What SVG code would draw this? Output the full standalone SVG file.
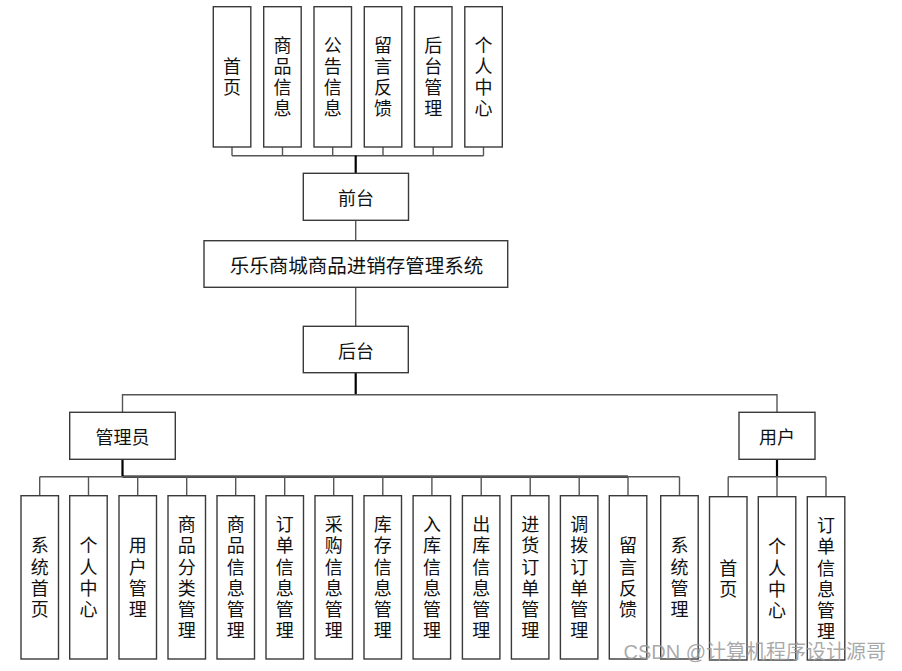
<svg xmlns="http://www.w3.org/2000/svg" width="902" height="671" viewBox="0 0 902 671">
<style>
.b{fill:#fff;stroke:#3a3a3a;stroke-width:1.4}
.t{font-family:"Noto Sans CJK SC","Noto Sans",sans-serif;font-size:18px;fill:#111;text-anchor:middle;dominant-baseline:central}
.v{font-family:"Noto Sans CJK SC","Noto Sans",sans-serif;font-size:18px;fill:#111;text-anchor:middle;writing-mode:vertical-rl;letter-spacing:3.3px}
.vt{letter-spacing:3px}
.c{fill:none;stroke:#555;stroke-width:1.4}
.k{fill:none;stroke:#000;stroke-width:2.2}
.w{font-family:"Liberation Sans","Noto Sans CJK SC",sans-serif;font-size:20px;fill:#9a9a9a;fill-opacity:0.85;text-anchor:end}
</style>
<rect width="902" height="671" fill="#fff"/>
<g id="connectors">
<path class="c" d="M232,147V155.7M282.5,147V155.7M332.7,147V155.7M383,147V155.7M433.2,147V155.7M483.5,147V155.7M232,155.7H483.5"/>
<path class="k" d="M355.7,155.7V173.3"/>
<path class="c" d="M355.7,220.3V240.7M355.7,287.3V326.3"/>
<path class="k" d="M355.7,372.7V394.7"/>
<path class="c" d="M122.5,412.3V394.7H777V412.3"/>
<path class="k" d="M122.5,459.3V476.7M122.5,476.7H628"/>
<path class="c" d="M39.7,476.7H679.5M39.7,476.7V495.7M88.5,476.7V495.7M137.7,476.7V495.7M186.7,476.7V495.7M235.7,476.7V495.7M284.7,476.7V495.7M333.7,476.7V495.7M382.8,476.7V495.7M431.9,476.7V495.7M481.2,476.7V495.7M530.2,476.7V495.7M579.2,476.7V495.7M628,476.7V495.7M679.5,476.7V495.7"/>
<path class="k" d="M777,459.3V476.7"/>
<path class="c" d="M728.2,476.7H826M728.2,476.7V496.7M777,476.7V496.7M826,476.7V496.7"/>
</g>
<g id="n-home"><rect class="b" x="213.3" y="6.7" width="37.5" height="140.3"/><text class="v vt" x="232" y="78.5">首页</text></g>
<g id="n-goods"><rect class="b" x="263.7" y="6.7" width="37.5" height="140.3"/><text class="v vt" x="282.5" y="78.5">商品信息</text></g>
<g id="n-notice"><rect class="b" x="314" y="6.7" width="37.5" height="140.3"/><text class="v vt" x="332.7" y="78.5">公告信息</text></g>
<g id="n-msg"><rect class="b" x="364.3" y="6.7" width="37.5" height="140.3"/><text class="v vt" x="383" y="78.5">留言反馈</text></g>
<g id="n-admin-link"><rect class="b" x="414.5" y="6.7" width="37.5" height="140.3"/><text class="v vt" x="433.2" y="78.5">后台管理</text></g>
<g id="n-center"><rect class="b" x="464.8" y="6.7" width="37.5" height="140.3"/><text class="v vt" x="483.5" y="78.5">个人中心</text></g>
<g id="n-front"><rect class="b" x="303.3" y="173.3" width="105.2" height="47"/><text class="t" x="355.9" y="196.8">前台</text></g>
<g id="n-system"><rect class="b" x="204" y="240.7" width="303.7" height="46.6"/><text class="t" x="356.5" y="264" style="font-size:19.5px">乐乐商城商品进销存管理系统</text></g>
<g id="n-back"><rect class="b" x="303.3" y="326.3" width="105" height="46.4"/><text class="t" x="356" y="349.5">后台</text></g>
<g id="n-manager"><rect class="b" x="69.7" y="412.3" width="105.6" height="47"/><text class="t" x="122.5" y="435.8">管理员</text></g>
<g id="n-user"><rect class="b" x="739" y="412.3" width="76" height="47"/><text class="t" x="777" y="435.8">用户</text></g>
<g id="a1"><rect class="b" x="21" y="495.7" width="37.5" height="163.3"/><text class="v" x="39.7" y="579">系统首页</text></g>
<g id="a2"><rect class="b" x="69.7" y="495.7" width="37.5" height="163.3"/><text class="v" x="88.5" y="579">个人中心</text></g>
<g id="a3"><rect class="b" x="119" y="495.7" width="37.5" height="163.3"/><text class="v" x="137.7" y="579">用户管理</text></g>
<g id="a4"><rect class="b" x="168" y="495.7" width="37.5" height="163.3"/><text class="v" x="186.7" y="579">商品分类管理</text></g>
<g id="a5"><rect class="b" x="217" y="495.7" width="37.5" height="163.3"/><text class="v" x="235.7" y="579">商品信息管理</text></g>
<g id="a6"><rect class="b" x="266" y="495.7" width="37.5" height="163.3"/><text class="v" x="284.7" y="579">订单信息管理</text></g>
<g id="a7"><rect class="b" x="315" y="495.7" width="37.5" height="163.3"/><text class="v" x="333.7" y="579">采购信息管理</text></g>
<g id="a8"><rect class="b" x="364" y="495.7" width="37.5" height="163.3"/><text class="v" x="382.8" y="579">库存信息管理</text></g>
<g id="a9"><rect class="b" x="413.1" y="495.7" width="37.5" height="163.3"/><text class="v" x="431.9" y="579">入库信息管理</text></g>
<g id="a10"><rect class="b" x="462.4" y="495.7" width="37.5" height="163.3"/><text class="v" x="481.2" y="579">出库信息管理</text></g>
<g id="a11"><rect class="b" x="511.4" y="495.7" width="37.5" height="163.3"/><text class="v" x="530.2" y="579">进货订单管理</text></g>
<g id="a12"><rect class="b" x="560.4" y="495.7" width="37.5" height="163.3"/><text class="v" x="579.2" y="579">调拨订单管理</text></g>
<g id="a13"><rect class="b" x="609.3" y="495.7" width="37.5" height="163.3"/><text class="v" x="628" y="579">留言反馈</text></g>
<g id="a14"><rect class="b" x="660.7" y="495.7" width="37.5" height="163.3"/><text class="v" x="679.5" y="579">系统管理</text></g>
<g id="u1"><rect class="b" x="709.5" y="496.7" width="37.5" height="163.3"/><text class="v" x="728.2" y="580">首页</text></g>
<g id="u2"><rect class="b" x="758.3" y="496.7" width="37.5" height="163.3"/><text class="v" x="777" y="580">个人中心</text></g>
<g id="u3"><rect class="b" x="807.3" y="496.7" width="37.5" height="163.3"/><text class="v" x="826" y="580">订单信息管理</text></g>
<text class="w" x="886" y="659">CSDN @计算机程序设计源哥</text>
</svg>
